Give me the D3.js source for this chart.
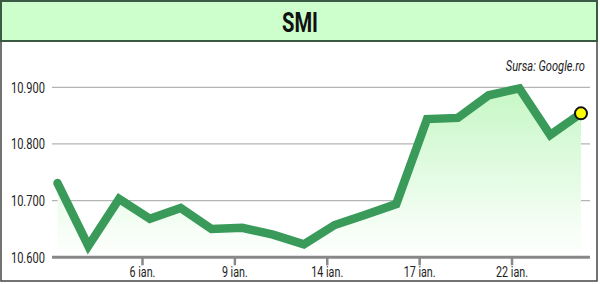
<!DOCTYPE html>
<html>
<head>
<meta charset="utf-8">
<script src="https://cdn.jsdelivr.net/npm/d3@7"></script>
<style>
  body { margin: 0; background: #fff; }
  svg { display: block; }
</style>
</head>
<body>
<div id="vis"></div>
<script>
/* data: SMI closing values, one per trading day */
let values = [10731, 10620, 10703, 10668, 10687, 10650, 10652, 10640, 10623,
              10657, 10675, 10694, 10844, 10846, 10886, 10898, 10816, 10854];
let tickDays = [3, 6, 9, 12, 15];
let tickLabels = ["6 ian.", "9 ian.", "14 ian.", "17 ian.", "22 ian."];
let yTicks = [10600, 10700, 10800, 10900];
let title = "SMI";
let source = "Sursa: Google.ro";

/* geometry */
let width = 600;
let height = 284;
let boundsX = [52, 590];
let boundsY = [87.3, 257.3];
let font = "Roboto, 'DejaVu Sans Condensed', sans-serif";

let x = d3.scaleLinear()
  .domain([0, values.length - 1])
  .range([57.5, 581]);
let y = d3.scaleLinear()
  .domain([10600, 10900])
  .range([boundsY[1], boundsY[0]]);

let fmt = v => d3.format(",.3f")(v / 1000).replace(",", "");

let svg = d3.select("#vis").append("svg")
  .attr("width", width)
  .attr("height", height);

/* condensed look: squeeze text horizontally around its anchor */
function narrowText (parent, tx, ty, anchor, size, sx) {
  return parent.append("text")
    .attr("transform", "translate(" + tx + "," + ty + ") scale(" + sx + ",1)")
    .attr("text-anchor", anchor)
    .attr("font-family", font)
    .attr("font-size", size)
    .attr("fill", "#222");
}

/* gradient for the area under the line */
let grad = svg.append("defs").append("linearGradient")
  .attr("id", "fillGrad")
  .attr("x1", 0).attr("y1", 0).attr("x2", 0).attr("y2", 1);
grad.append("stop").attr("offset", "0%").attr("stop-color", "#c6f7c6");
grad.append("stop").attr("offset", "100%").attr("stop-color", "#ffffff");

/* outer frame */
svg.append("rect")
  .attr("x", 1).attr("y", 1)
  .attr("width", 596).attr("height", 280)
  .attr("fill", "#fff")
  .attr("stroke", "#444")
  .attr("stroke-width", 1.5);

/* header */
svg.append("rect")
  .attr("x", 1).attr("y", 1)
  .attr("width", 596).attr("height", 40)
  .attr("fill", "#ccffcc")
  .attr("stroke", "#3b5a43")
  .attr("stroke-width", 2);
narrowText(svg, 300, 31.5, "middle", 28, 0.72)
  .attr("font-weight", "bold")
  .attr("fill", "#111")
  .text(title);

/* grid lines and y labels */
let grid = svg.append("g");
yTicks.forEach(v => {
  grid.append("line")
    .attr("x1", boundsX[0]).attr("x2", boundsX[1])
    .attr("y1", y(v)).attr("y2", y(v))
    .attr("stroke", "#b4b4b4")
    .attr("stroke-width", 1.2);
  narrowText(grid, 45, y(v) + 5.5, "end", 15, 0.74)
    .text(fmt(v));
});

/* area */
let area = d3.area()
  .x((d, i) => x(i))
  .y0(y(10600))
  .y1(d => y(d));
svg.append("path")
  .attr("d", area(values))
  .attr("fill", "url(#fillGrad)");

/* base axis over the area */
svg.append("line")
  .attr("x1", boundsX[0]).attr("x2", boundsX[1])
  .attr("y1", y(10600)).attr("y2", y(10600))
  .attr("stroke", "#888")
  .attr("stroke-width", 3);

/* x ticks and labels (ticks sit a little left of the day point) */
let xg = svg.append("g");
tickDays.forEach((d, i) => {
  let tx = x(d - 0.24);
  xg.append("line")
    .attr("x1", tx).attr("x2", tx)
    .attr("y1", y(10600)).attr("y2", y(10600) + 8)
    .attr("stroke", "#888")
    .attr("stroke-width", 2.5);
  narrowText(xg, tx, 277, "middle", 14.5, 0.74)
    .text(tickLabels[i]);
});

/* line */
let line = d3.line()
  .x((d, i) => x(i))
  .y(d => y(d));
svg.append("path")
  .attr("d", line(values))
  .attr("fill", "none")
  .attr("stroke", "#3a9a5a")
  .attr("stroke-width", 8.5)
  .attr("stroke-linejoin", "miter")
  .attr("stroke-linecap", "round");

/* last value marker */
let last = values.length - 1;
svg.append("circle")
  .attr("cx", x(last)).attr("cy", y(values[last]))
  .attr("r", 6)
  .attr("fill", "#ffff00")
  .attr("stroke", "#111")
  .attr("stroke-width", 2);

/* source */
narrowText(svg, 585, 71, "end", 15, 0.74)
  .attr("font-style", "italic")
  .text(source);
</script>
</body>
</html>
